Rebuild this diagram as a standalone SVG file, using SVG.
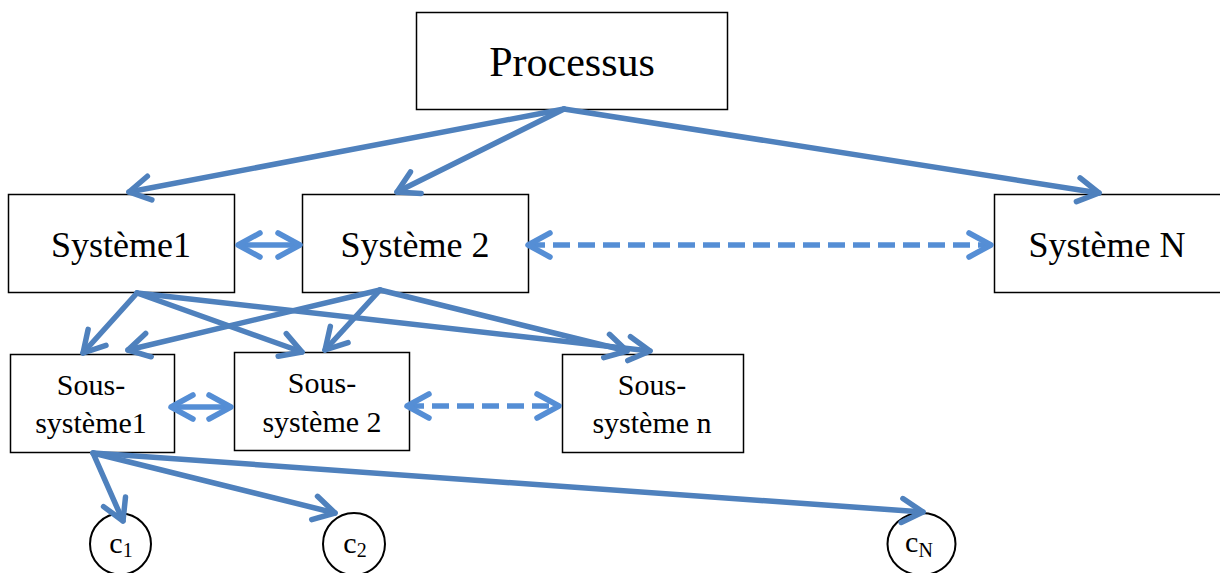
<svg xmlns="http://www.w3.org/2000/svg" width="1220" height="573" viewBox="0 0 1220 573">
<style>
.box{fill:#fff;stroke:#000;stroke-width:1.5}
.circ{fill:#fff;stroke:#000;stroke-width:2}
.t{font-family:"Liberation Serif","Times New Roman",serif;fill:#000;text-anchor:middle}
.s{stroke:#4F81BD;stroke-width:5.5;fill:none;stroke-linecap:round;marker-end:url(#ah)}
.d{stroke:#558ED5;stroke-width:5.5;fill:none;marker-end:url(#ah2);marker-start:url(#ah2)}
.dash{stroke-dasharray:17 8}
</style>
<defs>
<marker id="ah" viewBox="-28 -16 32 32" refX="0" refY="0" markerWidth="32" markerHeight="32" markerUnits="userSpaceOnUse" orient="auto">
<path d="M-21,-12 L0,0 L-21,12" fill="none" stroke="#4F81BD" stroke-width="5.5" stroke-linecap="round" stroke-linejoin="round"/>
</marker>
<marker id="ah2" viewBox="-28 -16 32 32" refX="0" refY="0" markerWidth="32" markerHeight="32" markerUnits="userSpaceOnUse" orient="auto-start-reverse">
<path d="M-22,-12 L0,0 L-22,12" fill="none" stroke="#558ED5" stroke-width="5.5" stroke-linecap="round" stroke-linejoin="round"/>
</marker>
</defs>
<rect width="1220" height="573" fill="#fff"/>
<g id="processus"><rect class="box" x="416.5" y="12.5" width="311" height="97"/><text class="t" x="572" y="76" font-size="42">Processus</text></g>
<g id="systeme1"><rect class="box" x="8.5" y="194.5" width="226" height="98"/><text class="t" x="121" y="257" font-size="36">Système1</text></g>
<g id="systeme2"><rect class="box" x="302.5" y="194.5" width="226" height="98"/><text class="t" x="415" y="257" font-size="36">Système 2</text></g>
<g id="systemeN"><rect class="box" x="994.5" y="194.5" width="228" height="98"/><text class="t" x="1107" y="257" font-size="36">Système N</text></g>
<g id="sous1"><rect class="box" x="10.5" y="354.5" width="164" height="98"/><text class="t" x="91" y="395" font-size="30">Sous-</text><text class="t" x="91" y="433" font-size="30">système1</text></g>
<g id="sous2"><rect class="box" x="234.5" y="352.5" width="175" height="98"/><text class="t" x="322" y="393" font-size="30">Sous-</text><text class="t" x="322" y="432" font-size="30">système 2</text></g>
<g id="sousn"><rect class="box" x="562.5" y="354.5" width="181" height="98"/><text class="t" x="652" y="395" font-size="30">Sous-</text><text class="t" x="652" y="433" font-size="30">système n</text></g>
<g id="c1"><circle class="circ" cx="120.5" cy="544" r="30.5"/><text class="t" x="121" y="553" font-size="30">c<tspan font-size="20" dy="4">1</tspan></text></g>
<g id="c2"><circle class="circ" cx="354" cy="544" r="31"/><text class="t" x="355" y="553" font-size="30">c<tspan font-size="20" dy="4">2</tspan></text></g>
<g id="cN"><ellipse class="circ" cx="921.5" cy="544" rx="34" ry="31"/><text class="t" x="919" y="552" font-size="30">c<tspan font-size="20" dy="5">N</tspan></text></g>
<g id="connectors">
<line class="s" x1="564" y1="109" x2="129" y2="192"/>
<line class="s" x1="564" y1="109" x2="397" y2="192"/>
<line class="s" x1="564" y1="109" x2="1099" y2="193"/>
<line class="s" x1="137" y1="293" x2="83" y2="353"/>
<line class="s" x1="137" y1="293" x2="302" y2="352"/>
<line class="s" x1="137" y1="293" x2="650" y2="351"/>
<line class="s" x1="380" y1="290" x2="128" y2="350"/>
<line class="s" x1="380" y1="290" x2="325" y2="350"/>
<line class="s" x1="380" y1="290" x2="627" y2="351"/>
<line class="s" x1="93" y1="453" x2="123" y2="521"/>
<line class="s" x1="93" y1="453" x2="335" y2="513"/>
<line class="s" x1="93" y1="453" x2="923" y2="512"/>
<line class="d" x1="238" y1="245" x2="300" y2="245"/>
<line class="d dash" x1="528" y1="245" x2="991" y2="245"/>
<line class="d" x1="171" y1="407" x2="231" y2="407"/>
<line class="d dash" x1="407" y1="406" x2="559" y2="406"/>
</g>
</svg>
